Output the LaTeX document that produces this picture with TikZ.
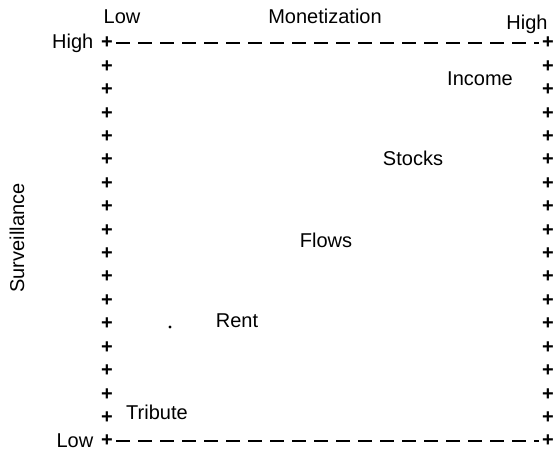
\documentclass[tikz,border=0pt]{standalone}
\usepackage{fontspec}
\setmainfont{Liberation Sans}
\usetikzlibrary{positioning}
\tikzset{lbl/.style={inner sep=0pt,font=\fontsize{15}{18}\selectfont},
  pl/.style={inner sep=2.5pt,font=\fontsize{15}{18}\selectfont\bfseries},
  axis/.style={line width=1.2pt,dash pattern=on 10pt off 6.5pt}}

\begin{document}
\begin{tikzpicture}[x=0.75pt,y=-0.75pt]
    \useasboundingbox (0,0) rectangle (558,454);
    \foreach \i in {0,...,17}{
        \node[pl] (l\i) at (107,{43+\i*23.41}) {+};
        \node[pl] (r\i) at (548,{43+\i*23.41}) {+};
    }

    \draw [axis] (l0) -- (r0);
    \draw [axis] (l17) -- (r17);

    \node[lbl] (lowx) at (122,17) {Low};
    \node[lbl] (mon) at (325,16) {Monetization};
    \node[lbl] (highx) at (527,24) {High};
    \node[lbl,left=3pt of l0] (highy) {High};
    \node[lbl,left=3pt of l17] (lowy) {Low};
    \node[lbl,rotate=90] (surv) at (17,238) {Surveillance};

    \node[lbl] (inc) at (480,79) {Income};
    \node[lbl] (stk) at (413,158) {Stocks};
    \node[lbl] (flw) at (326,240) {Flows};
    \node[lbl] (rnt) at (237,321) {Rent};
    \node[lbl] (trb) at (157,412) {Tribute};
    \node[circle,fill,inner sep=0.8pt] (dot) at (170,327) {};
\end{tikzpicture}
\end{document}
